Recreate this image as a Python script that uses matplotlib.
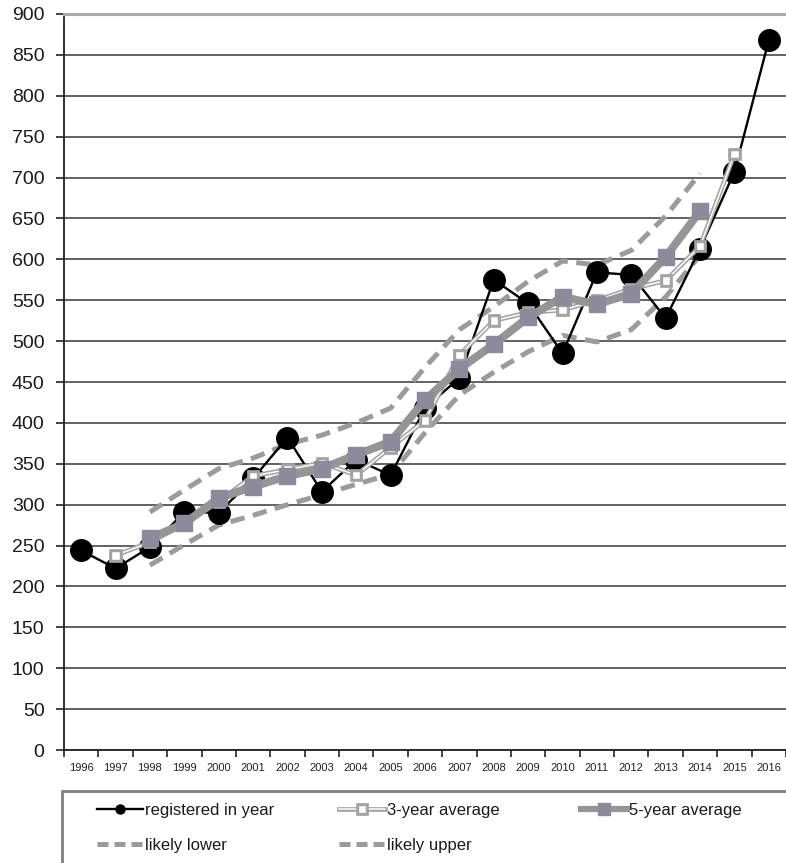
import matplotlib
matplotlib.use("Agg")
import matplotlib.pyplot as plt
from matplotlib.lines import Line2D
from matplotlib.patches import Rectangle
import matplotlib.patheffects as pe
import numpy as np

plt.rcParams['font.family'] = ['Liberation Sans', 'DejaVu Sans']

years = [str(y) for y in range(1996, 2017)]
registered = [244, 222, 248, 291, 290, 332, 382, 316, 355, 336, 418,
              455, 575, 546, 485, 584, 581, 528, 613, 707, 868]
# 3-year centred average: 1997..2015
three_year = [238, 254, 276, 304, 335, 343, 351, 336, 370, 403,
              483, 525, 535, 538, 550, 564, 574, 616, 729]
# 5-year centred average and likely band: 1998..2014
five_year = [259, 277, 308, 322, 335, 344, 361, 377, 428, 466,
             496, 529, 554, 545, 558, 603, 659]
likely_upper = [291, 318, 344, 357, 374, 385, 400, 418, 468, 514,
                542, 573, 598, 593, 611, 653, 705]
likely_lower = [226, 251, 275, 287, 300, 312, 325, 337, 388, 434,
                462, 487, 507, 499, 514, 554, 605]
y_ticks = list(range(0, 901, 50))

W, H = 786, 863
fig = plt.figure(figsize=(W / 100, H / 100), dpi=100)
ax = fig.add_axes([64 / W, 113 / H, 722 / W, 736 / H])

x_all = np.arange(len(years))
x3 = x_all[1:1 + len(three_year)]
x5 = x_all[2:2 + len(five_year)]

GRAY_DASH = '#9b9b9b'
GRAY_5 = '#959595'
SQ_5 = '#8d8b9b'
GRAY_3 = '#a3a3a3'

dash_kw = dict(color=GRAY_DASH, lw=3.6, dashes=(2.9, 1.7), solid_capstyle='butt',
               dash_capstyle='butt', zorder=2)
ax.plot(x5, likely_lower, **dash_kw)
ax.plot(x5, likely_upper, **dash_kw)

ax.plot(x_all, registered, color='black', lw=1.7, marker='o', ms=15.5,
        mfc='black', mec='black', zorder=3)

three_pe = [pe.Stroke(linewidth=3.4, foreground=GRAY_3), pe.Normal()]
ax.plot(x3, three_year, color='white', lw=1.1, marker='s', ms=6,
        mfc='white', mec=GRAY_3, mew=1.0, path_effects=three_pe, zorder=4)

ax.plot(x5, five_year, color=GRAY_5, lw=5.8, marker='s', ms=11,
        mfc=SQ_5, mec=SQ_5, zorder=5, solid_joinstyle='round')

# axes styling
ax.set_xlim(-0.5, -0.5 + 722 / 34.6)
ax.set_ylim(0, 900)
ax.set_yticks(y_ticks)
ax.set_yticklabels([str(v) for v in y_ticks], fontsize=14, color='#1a1a1a')
ax.tick_params(axis='y', length=6, width=1.2, pad=8, color='#222222')

ax.set_xticks(x_all)
ax.set_xticklabels(years, fontsize=8, color='#222222')
ax.set_xticks(np.arange(-0.5, len(years) - 0.5 + 1), minor=True)
ax.tick_params(axis='x', which='major', length=0, pad=9)
ax.tick_params(axis='x', which='minor', length=5, width=1.2, color='#222222')

ax.set_axisbelow(True)
ax.yaxis.grid(True, color='#555555', lw=1.3)
ax.spines['right'].set_visible(False)
ax.spines['top'].set_color('#aaaaaa')
ax.spines['top'].set_linewidth(2.2)
ax.spines['left'].set_color('#222222')
ax.spines['left'].set_linewidth(1.3)
ax.spines['bottom'].set_color('#222222')
ax.spines['bottom'].set_linewidth(1.3)

# legend frame
frame = Rectangle((62 / W, -0.05), 1.0, (863 - 791) / H + 0.05,
                  transform=fig.transFigure, fill=False, edgecolor='#808080',
                  lw=2.0, zorder=1)
fig.add_artist(frame)

h_reg = Line2D([], [], color='black', lw=1.7, marker='o', ms=6.5,
               mfc='black', mec='black')
h_3 = Line2D([], [], color='white', lw=1.1, marker='s', ms=5.5, mfc='white',
             mec=GRAY_3, path_effects=three_pe)
h_5 = Line2D([], [], color=GRAY_5, lw=4.5, marker='s', ms=8, mfc=SQ_5, mec=SQ_5)
h_lo = Line2D([], [], color=GRAY_DASH, lw=3.6, dashes=(2.2, 1.2))
h_up = Line2D([], [], color=GRAY_DASH, lw=3.6, dashes=(2.2, 1.2))

leg_kw = dict(frameon=False, fontsize=12, handlelength=2.75, handletextpad=0.15,
              labelspacing=1.2, borderpad=0, borderaxespad=0, loc='upper left')
columns = [([h_reg, h_lo], ['registered in year', 'likely lower'], 97),
           ([h_3, h_up], ['3-year average', 'likely upper'], 339),
           ([h_5], ['5-year average'], 581)]
for handles, labels, xpx in columns:
    leg = fig.legend(handles, labels, bbox_to_anchor=(xpx / W, 1 - 803 / H),
                     bbox_transform=fig.transFigure, **leg_kw)
    for t in leg.get_texts():
        t.set_color('#1a1a1a')

fig.savefig('out.png', dpi=100)
